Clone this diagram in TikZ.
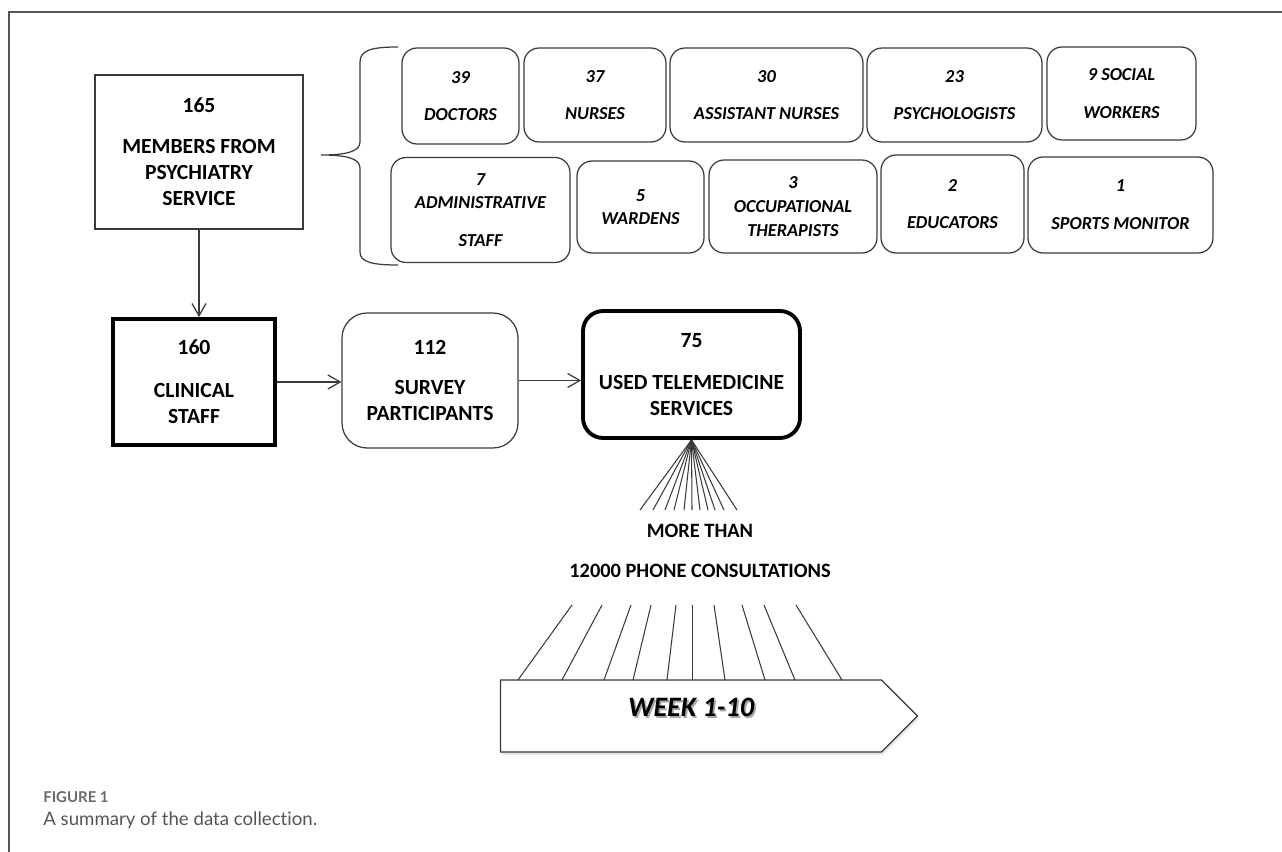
\documentclass[tikz,border=0pt]{standalone}
\usepackage{fontspec}
\setmainfont{Carlito}
\newfontfamily\capfont[Ligatures=NoCommon]{Lato}
\usetikzlibrary{positioning}
\usetikzlibrary{shapes.symbols}
\usetikzlibrary{arrows.meta}
\usetikzlibrary{shadows}
\definecolor{linegray}{HTML}{3A3A3A}
\definecolor{framegray}{HTML}{555555}
\definecolor{capgray}{HTML}{6A6A6A}
\definecolor{captext}{HTML}{555555}

\begin{document}
\begin{tikzpicture}[
  x=0.02cm, y=-0.02cm,
  grpnode/.style={draw=linegray,line width=0.7pt,rounded corners=0.3cm,align=center,
    inner sep=0pt,font=\fontsize{10.4}{13.5}\selectfont\bfseries\itshape},
  mainnode/.style={align=center,inner sep=0pt,font=\fontsize{12.3}{14.8}\selectfont\bfseries},
  conn/.style={draw=linegray,line width=0.7pt,-{Straight Barb[length=7pt,width=8pt]}},
  ray/.style={draw=linegray,line width=0.6pt}
]
\useasboundingbox (0,0) rectangle (1282,852);

% frame of the figure
\draw[framegray, line width=0.7pt] (9,852) -- (9,12) -- (1282,12);

% staff members
\node[mainnode, draw=linegray, line width=0.7pt, minimum width=4.16cm, minimum height=3.08cm] (m165) at (199,152)
  {165\\[8.5pt]MEMBERS FROM\\PSYCHIATRY\\SERVICE};

% professions, top row
\node[grpnode, minimum width=2.34cm, minimum height=1.92cm] (t1) at (460.5,96) {39\\[8pt]DOCTORS};
\node[grpnode, minimum width=2.84cm, minimum height=1.88cm] (t2) at (595,95) {37\\[8pt]NURSES};
\node[grpnode, minimum width=3.86cm, minimum height=1.88cm] (t3) at (766.5,95) {30\\[8pt]ASSISTANT NURSES};
\node[grpnode, minimum width=3.5cm, minimum height=1.88cm] (t4) at (954.5,95) {23\\[8pt]PSYCHOLOGISTS};
\node[grpnode, minimum width=2.98cm, minimum height=1.86cm] (t5) at (1121.5,93.5) {9 SOCIAL\\[8pt]WORKERS};

% professions, bottom row
\node[grpnode, minimum width=3.58cm, minimum height=2.1cm] (b1) at (480.5,210) {7\\ADMINISTRATIVE\\[8pt]STAFF};
\node[grpnode, minimum width=2.54cm, minimum height=1.84cm] (b2) at (640.5,207) {5\\WARDENS};
\node[grpnode, minimum width=3.36cm, minimum height=1.86cm] (b3) at (793,206.5) {3\\OCCUPATIONAL\\THERAPISTS};
\node[grpnode, minimum width=2.86cm, minimum height=1.96cm] (b4) at (952.5,204) {2\\[8pt]EDUCATORS};
\node[grpnode, minimum width=3.7cm, minimum height=1.92cm] (b5) at (1120.5,205) {1\\[8pt]SPORTS MONITOR};

% brace
\draw[linegray, line width=0.7pt] (398,47) .. controls (372,47) and (360,50) .. (360,62) -- (360,142)
  .. controls (360,152) and (345,155) .. (321,155) .. controls (345,155) and (360,158) .. (360,168)
  -- (360,252) .. controls (360,262) and (372,265) .. (398,265);

% flow
\node[mainnode, draw=black, line width=2.2pt, minimum width=3.24cm, minimum height=2.52cm] (c160) at (194,382)
  {160\\[9.5pt]CLINICAL\\STAFF};
\node[mainnode, draw=linegray, line width=0.7pt, rounded corners=0.5cm, minimum width=3.52cm, minimum height=2.7cm] (s112) at (430,380.5)
  {112\\[8.5pt]SURVEY\\PARTICIPANTS};
\node[mainnode, draw=black, line width=2.2pt, rounded corners=0.4cm, minimum width=4.34cm, minimum height=2.54cm] (u75) at (691.5,374.5)
  {75\\[9pt]USED TELEMEDICINE\\SERVICES};

\path (m165.south) edge[conn] (m165.south |- c160.north)
(c160.east) edge[conn] (c160.east -| s112.west)
(s112.east) edge[conn] (s112.east -| u75.west)
;

% consultations
\foreach \x in {640,653,665,674,684,692,700,708,715,724,737}
  \draw[ray] (u75.south) -- (\x,510);

\node[mainnode, font=\fontsize{11.6}{22.8}\selectfont\bfseries] (cons) at (700,551)
  {MORE THAN\\12000 PHONE CONSULTATIONS};

% weeks
\node[signal, signal to=east, draw=linegray, line width=0.7pt, fill=white,
  minimum width=8.34cm, minimum height=1.44cm, inner sep=0pt,
  text height=10pt, text depth=10pt,
  font=\fontsize{16}{18}\selectfont\bfseries\itshape,
  drop shadow={opacity=0.2, shadow xshift=0.03cm, shadow yshift=-0.06cm}] (wk) at (691,716)
  {\makebox[0pt][l]{\raisebox{-1.5pt}{\hspace{1pt}\color{black!35}WEEK 1-10}}WEEK 1-10};

\foreach \a/\b in {572/518,602/562,631/604,651/633,676/667,692.3/692.3,714/725,742/765,764/795,796/842}
  \draw[ray] (\a,605) -- (\b,680);

% caption
\node[anchor=base west, inner sep=0pt, font=\capfont\fontsize{8.5}{10}\selectfont\bfseries, text=capgray] (fig) at (43,802) {FIGURE 1};
\node[anchor=base west, inner sep=0pt, font=\capfont\fontsize{10.6}{12}\selectfont, text=captext] (cap) at (43,825) {A summary of the data collection.};

\end{tikzpicture}
\end{document}
